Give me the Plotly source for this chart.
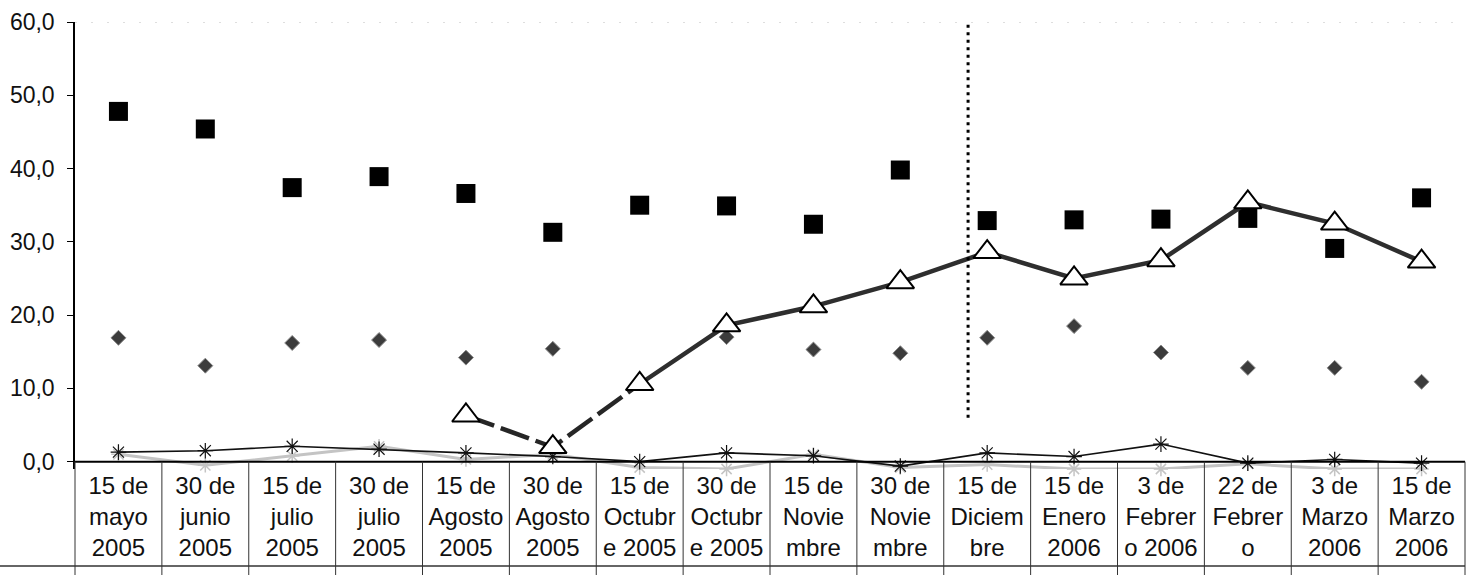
import plotly.graph_objects as go

# ---- data ----
categories = [
    "15 de<br>mayo<br>2005", "30 de<br>junio<br>2005", "15 de<br>julio<br>2005",
    "30 de<br>julio<br>2005", "15 de<br>Agosto<br>2005", "30 de<br>Agosto<br>2005",
    "15 de<br>Octubr<br>e 2005", "30 de<br>Octubr<br>e 2005", "15 de<br>Novie<br>mbre",
    "30 de<br>Novie<br>mbre", "15 de<br>Diciem<br>bre", "15 de<br>Enero<br>2006",
    "3 de<br>Febrer<br>o 2006", "22 de<br>Febrer<br>o", "3 de<br>Marzo<br>2006",
    "15 de<br>Marzo<br>2006",
]
squares = [47.8, 45.4, 37.4, 38.9, 36.6, 31.3, 35.0, 34.9, 32.4, 39.8, 32.9, 33.0, 33.1, 33.2, 29.1, 36.0]
diamonds = [16.9, 13.1, 16.2, 16.6, 14.2, 15.4, None, 17.0, 15.3, 14.8, 16.9, 18.5, 14.9, 12.8, 12.8, 10.9]
triangles = [None, None, None, None, 6.3, 2.0, 10.6, 18.6, 21.2, 24.5, 28.6, 25.0, 27.5, 35.4, 32.5, 27.3]
low_black = [1.3, 1.5, 2.1, 1.7, 1.2, 0.7, 0.0, 1.2, 0.8, -0.6, 1.2, 0.7, 2.4, -0.2, 0.3, -0.2]
low_gray = [1.0, -0.5, 0.8, 2.1, 0.3, 1.0, -0.8, -1.0, 1.0, -0.8, -0.4, -1.0, -1.0, -0.3, -1.0, -1.0]
y_ticks = [0, 10, 20, 30, 40, 50, 60]
y_ticktext = ["0,0", "10,0", "20,0", "30,0", "40,0", "50,0", "60,0"]
divider_x = 9.78          # vertical dotted separator (category units)
divider_y = [6.0, 60.0]
dashed_until = 6          # triangle line dashed up to this category index

# ---- layout constants ----
W, H = 1470, 575
M_L, M_R, M_T, M_B = 75, 5, 22, 106
Y_MIN, Y_MAX = -1.0, 60.0
FONT = "Liberation Sans, Arial, sans-serif"
n = len(categories)
plot_h = H - M_T - M_B

def yp(v):
    return (v - Y_MIN) / (Y_MAX - Y_MIN)

def py(px_from_top):
    return (H - M_B - px_from_top) / plot_h

fig = go.Figure()

fig.add_trace(go.Scatter(
    x=categories, y=low_gray, mode="lines+markers", cliponaxis=False,
    line=dict(color="#c4c4c4", width=3),
    marker=dict(symbol="asterisk-open", size=12, line=dict(color="#b0b0b0", width=1.5)),
    showlegend=False, hoverinfo="skip"))

fig.add_trace(go.Scatter(
    x=categories, y=low_black, mode="lines+markers", cliponaxis=False,
    line=dict(color="#111111", width=1.6),
    marker=dict(symbol="asterisk-open", size=13, line=dict(color="#555555", width=1.2)),
    showlegend=False))

fig.add_trace(go.Scatter(
    x=categories, y=diamonds, mode="markers",
    marker=dict(symbol="diamond", size=11.5, color="#3c3c3c", line=dict(color="#8a8a8a", width=1)),
    showlegend=False))

fig.add_trace(go.Scatter(
    x=categories, y=squares, mode="markers",
    marker=dict(symbol="square", size=19, color="#000000"),
    showlegend=False))

tri_dash = [v if (v is not None and i <= dashed_until) else None for i, v in enumerate(triangles)]
tri_solid = [v if (v is not None and i >= dashed_until) else None for i, v in enumerate(triangles)]
fig.add_trace(go.Scatter(
    x=categories, y=tri_dash, mode="lines", connectgaps=False,
    line=dict(color="#262626", width=4.5, dash="30px,7px"),
    showlegend=False, hoverinfo="skip"))
fig.add_trace(go.Scatter(
    x=categories, y=tri_solid, mode="lines", connectgaps=False,
    line=dict(color="#2e2e2e", width=4.5),
    showlegend=False, hoverinfo="skip"))
fig.add_trace(go.Scatter(
    x=categories, y=triangles, mode="markers",
    marker=dict(symbol="triangle-up", size=24, color="white", line=dict(color="black", width=2)),
    showlegend=False))

shapes = []
# x axis line at zero
shapes.append(dict(type="line", xref="paper", yref="y", x0=0, x1=1, y0=0, y1=0,
                   line=dict(color="black", width=2)))
# faint dotted top border
shapes.append(dict(type="line", xref="paper", yref="y", x0=0, x1=1, y0=60, y1=60,
                   line=dict(color="#bdbdbd", width=1, dash="2px,14px")))
# table grid
bottom_paper = -M_B / plot_h
for i in range(n + 1):
    shapes.append(dict(type="line", xref="paper", yref="paper",
                       x0=i / n, x1=i / n, y0=yp(0), y1=bottom_paper,
                       line=dict(color="#333333", width=1)))
shapes.append(dict(type="line", xref="paper", yref="paper",
                   x0=-M_L / (W - M_L - M_R), x1=1, y0=py(566), y1=py(566),
                   line=dict(color="#333333", width=1.3)))
# vertical dotted divider
shapes.append(dict(type="line", xref="x", yref="y", x0=divider_x, x1=divider_x,
                   y0=divider_y[0], y1=divider_y[1],
                   line=dict(color="black", width=3, dash="3px,4.5px")))

fig.update_layout(
    width=W, height=H,
    margin=dict(l=M_L, r=M_R, t=M_T, b=M_B),
    paper_bgcolor="white", plot_bgcolor="white",
    font=dict(family=FONT, size=23, color="#111111"),
    separators=",.",
    shapes=shapes,
    xaxis=dict(type="category", categoryorder="array", categoryarray=categories,
               range=[-0.5, n - 0.5], showgrid=False, zeroline=False, showline=False,
               ticks="", tickfont=dict(size=24, color="#111111"), fixedrange=True),
    yaxis=dict(range=[Y_MIN, Y_MAX], tickvals=y_ticks, ticktext=y_ticktext,
               showgrid=False, zeroline=False, showline=True, linecolor="black", linewidth=1.5,
               ticks="outside", ticklen=6, tickcolor="black", ticklabelstandoff=8,
               tickfont=dict(size=23, color="#111111"), fixedrange=True),
)

fig.write_html("out.html", config={"displayModeBar": False},
               post_script="document.body.style.margin='0';")
